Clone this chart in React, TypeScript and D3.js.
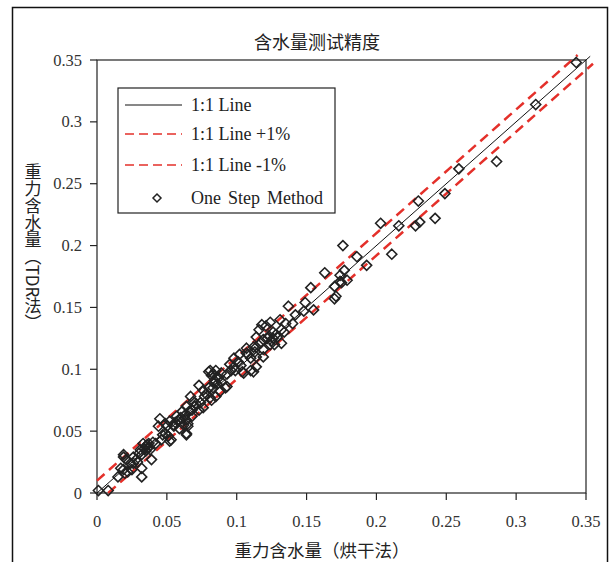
import React from "react";
import * as d3 from "d3";

const xTicks = [0, 0.05, 0.1, 0.15, 0.2, 0.25, 0.3, 0.35];
const yTicks = [0, 0.05, 0.1, 0.15, 0.2, 0.25, 0.3, 0.35];
const tickLabels = ["0", "0.05", "0.1", "0.15", "0.2", "0.25", "0.3", "0.35"];

// oven-dry gravimetric water content (x) and TDR measurement (y)
const ovenDry = [
  0.001, 0.008, 0.015, 0.017, 0.019, 0.020, 0.022, 0.025, 0.032, 0.032,
  0.019, 0.021, 0.024, 0.026, 0.026, 0.030, 0.031, 0.032, 0.039, 0.033,
  0.035, 0.034, 0.037, 0.038, 0.036, 0.042, 0.046, 0.049, 0.051, 0.052,
  0.053, 0.045, 0.049, 0.052, 0.055, 0.050, 0.055, 0.059, 0.062, 0.065,
  0.064, 0.064, 0.044, 0.057, 0.059, 0.064, 0.061, 0.063, 0.068, 0.065,
  0.064, 0.068, 0.073, 0.076, 0.067, 0.069, 0.074, 0.082, 0.073, 0.076,
  0.080, 0.083, 0.077, 0.081, 0.085, 0.093, 0.088, 0.092, 0.080, 0.082,
  0.086, 0.089, 0.081, 0.095, 0.101, 0.102, 0.107, 0.110, 0.113, 0.114,
  0.099, 0.104, 0.110, 0.114, 0.112, 0.105, 0.098, 0.108, 0.114, 0.107,
  0.112, 0.119, 0.124, 0.119, 0.114, 0.119, 0.122, 0.126, 0.118, 0.116,
  0.126, 0.124, 0.121, 0.131, 0.132, 0.132, 0.140, 0.137, 0.142, 0.148,
  0.149, 0.155, 0.153, 0.163, 0.170, 0.170, 0.171, 0.174, 0.175, 0.177,
  0.174, 0.179, 0.176, 0.186, 0.193, 0.203, 0.211, 0.216, 0.228, 0.231,
  0.230, 0.242, 0.249, 0.259, 0.286, 0.314, 0.343,
  0.128, 0.134, 0.135, 0.127, 0.117, 0.103, 0.096, 0.093, 0.089, 0.086,
  0.084, 0.078, 0.070, 0.058, 0.047, 0.040, 0.028, 0.029, 0.019,
  0.035, 0.037, 0.036, 0.083, 0.085, 0.087, 0.084, 0.071, 0.066, 0.123,
  0.125, 0.129, 0.056, 0.060, 0.098
];
const tdr = [
  0.002, 0.002, 0.013, 0.020, 0.019, 0.016, 0.017, 0.019, 0.013, 0.020,
  0.029, 0.027, 0.024, 0.024, 0.029, 0.032, 0.035, 0.031, 0.027, 0.040,
  0.034, 0.036, 0.037, 0.035, 0.039, 0.040, 0.043, 0.048, 0.046, 0.042,
  0.043, 0.060, 0.056, 0.058, 0.055, 0.054, 0.054, 0.052, 0.055, 0.056,
  0.048, 0.047, 0.054, 0.062, 0.059, 0.059, 0.066, 0.063, 0.062, 0.054,
  0.070, 0.067, 0.067, 0.069, 0.078, 0.074, 0.073, 0.075, 0.087, 0.083,
  0.085, 0.085, 0.078, 0.077, 0.078, 0.086, 0.082, 0.085, 0.098, 0.095,
  0.094, 0.097, 0.099, 0.104, 0.106, 0.112, 0.113, 0.109, 0.114, 0.118,
  0.099, 0.098, 0.099, 0.102, 0.098, 0.097, 0.109, 0.112, 0.110, 0.117,
  0.118, 0.116, 0.120, 0.110, 0.126, 0.124, 0.125, 0.125, 0.136, 0.132,
  0.130, 0.138, 0.135, 0.140, 0.132, 0.121, 0.137, 0.151, 0.144, 0.147,
  0.154, 0.148, 0.166, 0.178, 0.167, 0.157, 0.159, 0.171, 0.170, 0.180,
  0.176, 0.172, 0.200, 0.191, 0.184, 0.218, 0.193, 0.216, 0.216, 0.219,
  0.236, 0.222, 0.242, 0.262, 0.268, 0.314, 0.348,
  0.128, 0.130, 0.137, 0.120, 0.121, 0.103, 0.099, 0.096, 0.090, 0.088,
  0.091, 0.080, 0.070, 0.058, 0.047, 0.041, 0.027, 0.025, 0.031,
  0.038, 0.040, 0.036, 0.096, 0.099, 0.093, 0.089, 0.072, 0.066, 0.127,
  0.123, 0.126, 0.057, 0.061, 0.102
];

const oneToOne: [number, number][] = [[0, 0], [0.353, 0.353]];
const plusLine: [number, number][] = [[0, 0.01], [0.344, 0.354]];
const minusLine: [number, number][] = [[0.008, 0], [0.355, 0.347]];

const legendLabels = ["1:1 Line", "1:1 Line +1%", "1:1 Line -1%", "One Step Method"];

const W = 611, H = 562;
const L = 97, R = 586, T = 60, B = 493;
const RED = "#e4302a";
const SERIF = "'Liberation Serif', 'Times New Roman', serif";
const CJK = "'Noto Sans CJK SC', sans-serif";

export default function App() {
  const x = d3.scaleLinear().domain([0, 0.35]).range([L, R]);
  const y = d3.scaleLinear().domain([0, 0.35]).range([B, T]);
  const line = d3.line<[number, number]>().x(d => x(d[0])).y(d => y(d[1]));
  const diamond = (cx: number, cy: number, r = 5) =>
    `M${cx},${cy - r}L${cx + r},${cy}L${cx},${cy + r}L${cx - r},${cy}Z`;

  const legX = 118, legY = 88, legW = 217, legH = 125;
  const rowY = [105, 134, 165, 198];

  return (
    <svg width={W} height={H} style={{ position: "absolute", left: 0, top: 0 }}>
      <rect x={0} y={0} width={W} height={H} fill="white" />
      <rect x={12.5} y={7.5} width={595} height={H + 10} fill="none" stroke="#111" strokeWidth={1.5} />
      <text x={317} y={49} textAnchor="middle" fontFamily={CJK} fontSize={18} fill="#222">含水量测试精度</text>

      {/* plot frame */}
      <rect x={L} y={T} width={R - L} height={B - T} fill="none" stroke="#222" strokeWidth={1.2} />

      {/* axes ticks */}
      {xTicks.map((t, i) => (
        <g key={"xt" + i}>
          <line x1={x(t)} x2={x(t)} y1={B} y2={B + 7} stroke="#222" strokeWidth={1.2} />
          <text x={x(t)} y={527} textAnchor="middle" fontFamily={SERIF} fontSize={16.5} fill="#333">{tickLabels[i]}</text>
        </g>
      ))}
      {yTicks.map((t, i) => (
        <g key={"yt" + i}>
          <line x1={L - 7} x2={L} y1={y(t)} y2={y(t)} stroke="#222" strokeWidth={1.2} />
          <text x={82} y={y(t) + 5.5} textAnchor="end" fontFamily={SERIF} fontSize={16.5} fill="#333">{tickLabels[i]}</text>
        </g>
      ))}

      {/* reference lines */}
      <path d={line(oneToOne) || ""} fill="none" stroke="#111" strokeWidth={1} />
      <path d={line(plusLine) || ""} fill="none" stroke={RED} strokeWidth={2.5} strokeDasharray="10,6" />
      <path d={line(minusLine) || ""} fill="none" stroke={RED} strokeWidth={2.5} strokeDasharray="10,6" />

      {/* points */}
      {ovenDry.map((v, i) => (
        <path key={"p" + i} d={diamond(x(v), y(tdr[i]))} fill="none" stroke="#222" strokeWidth={1.6} />
      ))}

      {/* legend */}
      <rect x={legX} y={legY} width={legW} height={legH} fill="white" stroke="#222" strokeWidth={1.2} />
      <line x1={125} x2={182} y1={rowY[0]} y2={rowY[0]} stroke="#111" strokeWidth={1} />
      <line x1={125} x2={182} y1={rowY[1]} y2={rowY[1]} stroke={RED} strokeWidth={1.5} strokeDasharray="9,5" />
      <line x1={125} x2={182} y1={rowY[2]} y2={rowY[2]} stroke={RED} strokeWidth={1.5} strokeDasharray="9,5" />
      <path d={diamond(157, rowY[3], 4)} fill="none" stroke="#222" strokeWidth={1.5} />
      {legendLabels.map((s, i) => (
        <text key={"lg" + i} x={191} y={rowY[i] + 6} fontFamily={SERIF} fontSize={18} fill="#222"
          wordSpacing={i === 3 ? 2.5 : 0}>{s}</text>
      ))}

      {/* axis titles */}
      <text x={322} y={557} textAnchor="middle" fontFamily={CJK} fontSize={17.5} fill="#222">重力含水量（烘干法）</text>
      <text x={33} y={247} textAnchor="middle" fontFamily={CJK} fontSize={17} fill="#222"
        style={{ writingMode: "vertical-rl" as any }}>重力含水量（TDR法）</text>
    </svg>
  );
}
